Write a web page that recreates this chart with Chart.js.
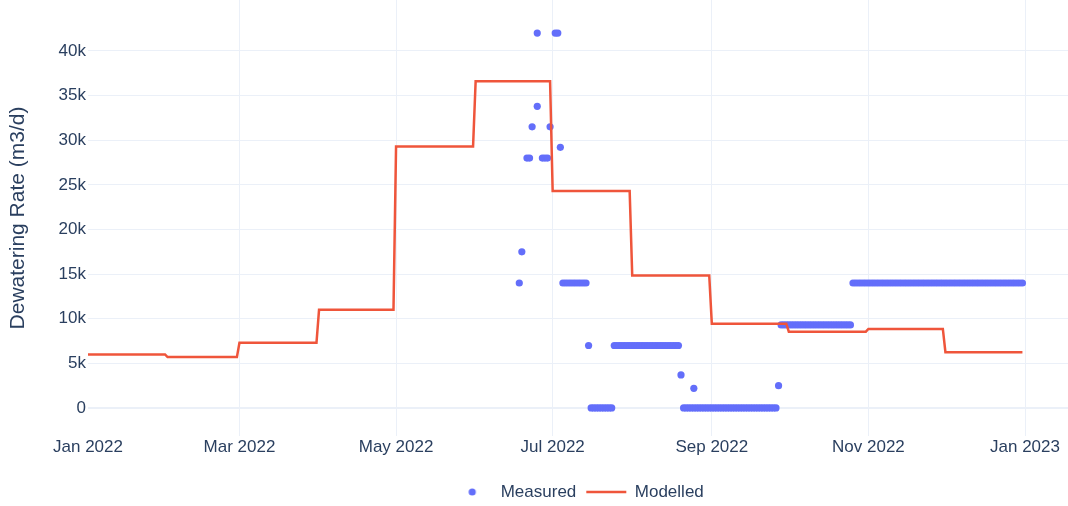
<!DOCTYPE html>
<html>
<head>
<meta charset="utf-8">
<title>Dewatering Rate</title>
<script src="https://cdn.jsdelivr.net/npm/chart.js@4.4.0/dist/chart.umd.min.js"></script>
<style>
  html, body { margin: 0; padding: 0; background: #fff; }
  #wrap { width: 1068px; height: 506px; position: relative; }
</style>
</head>
<body>
<div id="wrap"><canvas id="chart"></canvas></div>
<script>
// Modelled rate: one value per month, held from the first to the last day
const modelDates = [
    '2022-01-01', '2022-01-31', '2022-02-01', '2022-02-28', '2022-03-01', '2022-03-31',
    '2022-04-01', '2022-04-30', '2022-05-01', '2022-05-31', '2022-06-01', '2022-06-30',
    '2022-07-01', '2022-07-31', '2022-08-01', '2022-08-31', '2022-09-01', '2022-09-30',
    '2022-10-01', '2022-10-31', '2022-11-01', '2022-11-30', '2022-12-01', '2022-12-31'
];
const modelValues = [
    6000, 6000, 5700, 5700, 7300, 7300,
    11000, 11000, 29300, 29300, 36600, 36600,
    24300, 24300, 14850, 14850, 9450, 9450,
    8550, 8550, 8850, 8850, 6250, 6250
];

// Measured rate (daily readings)
const measuredDates = [
    '2022-06-18', '2022-06-19', '2022-06-21', '2022-06-22', '2022-06-23', '2022-06-25', '2022-06-25',
    '2022-06-27', '2022-06-28', '2022-06-29', '2022-06-30', '2022-07-02', '2022-07-03', '2022-07-04',
    '2022-07-05', '2022-07-06', '2022-07-07', '2022-07-08', '2022-07-09', '2022-07-10', '2022-07-11',
    '2022-07-12', '2022-07-13', '2022-07-14',
    '2022-07-15',
    '2022-07-16', '2022-07-17', '2022-07-18', '2022-07-19', '2022-07-20', '2022-07-21', '2022-07-22',
    '2022-07-23', '2022-07-24',
    '2022-07-25', '2022-07-26', '2022-07-27', '2022-07-28', '2022-07-29', '2022-07-30', '2022-07-31',
    '2022-08-01', '2022-08-02', '2022-08-03', '2022-08-04', '2022-08-05', '2022-08-06', '2022-08-07',
    '2022-08-08', '2022-08-09', '2022-08-10', '2022-08-11', '2022-08-12', '2022-08-13', '2022-08-14',
    '2022-08-15', '2022-08-16', '2022-08-17', '2022-08-18', '2022-08-19',
    '2022-08-20', '2022-08-25',
    '2022-08-21', '2022-08-22', '2022-08-23', '2022-08-24', '2022-08-25', '2022-08-26', '2022-08-27',
    '2022-08-28', '2022-08-29', '2022-08-30', '2022-08-31', '2022-09-01', '2022-09-02', '2022-09-03',
    '2022-09-04', '2022-09-05', '2022-09-06', '2022-09-07', '2022-09-08', '2022-09-09', '2022-09-10',
    '2022-09-11', '2022-09-12', '2022-09-13', '2022-09-14', '2022-09-15', '2022-09-16', '2022-09-17',
    '2022-09-18', '2022-09-19', '2022-09-20', '2022-09-21', '2022-09-22', '2022-09-23', '2022-09-24',
    '2022-09-25', '2022-09-26',
    '2022-09-27',
    '2022-09-28', '2022-09-29', '2022-09-30', '2022-10-01', '2022-10-02', '2022-10-03', '2022-10-04',
    '2022-10-05', '2022-10-06', '2022-10-07', '2022-10-08', '2022-10-09', '2022-10-10', '2022-10-11',
    '2022-10-12', '2022-10-13', '2022-10-14', '2022-10-15', '2022-10-16', '2022-10-17', '2022-10-18',
    '2022-10-19', '2022-10-20', '2022-10-21', '2022-10-22', '2022-10-23', '2022-10-24', '2022-10-25',
    '2022-10-26', '2022-10-27', '2022-10-28', '2022-10-29', '2022-10-30', '2022-10-31',
    '2022-11-01', '2022-11-02', '2022-11-03', '2022-11-04', '2022-11-05', '2022-11-06', '2022-11-07',
    '2022-11-08', '2022-11-09', '2022-11-10', '2022-11-11', '2022-11-12', '2022-11-13', '2022-11-14',
    '2022-11-15', '2022-11-16', '2022-11-17', '2022-11-18', '2022-11-19', '2022-11-20', '2022-11-21',
    '2022-11-22', '2022-11-23', '2022-11-24', '2022-11-25', '2022-11-26', '2022-11-27', '2022-11-28',
    '2022-11-29', '2022-11-30',
    '2022-12-01', '2022-12-02', '2022-12-03', '2022-12-04', '2022-12-05', '2022-12-06', '2022-12-07',
    '2022-12-08', '2022-12-09', '2022-12-10', '2022-12-11', '2022-12-12', '2022-12-13', '2022-12-14',
    '2022-12-15', '2022-12-16', '2022-12-17', '2022-12-18', '2022-12-19', '2022-12-20', '2022-12-21',
    '2022-12-22', '2022-12-23', '2022-12-24', '2022-12-25', '2022-12-26', '2022-12-27', '2022-12-28',
    '2022-12-29', '2022-12-30', '2022-12-31'
];
const measuredValues = [
    14000, 17500, 28000, 28000, 31500, 42000, 33800,
    28000, 28000, 28000, 31500, 42000, 42000, 29200,
    14000, 14000, 14000, 14000, 14000, 14000, 14000,
    14000, 14000, 14000,
    7000,
    0, 0, 0, 0, 0, 0, 0,
    0, 0,
    7000, 7000, 7000, 7000, 7000, 7000, 7000,
    7000, 7000, 7000, 7000, 7000, 7000, 7000,
    7000, 7000, 7000, 7000, 7000, 7000, 7000,
    7000, 7000, 7000, 7000, 7000,
    3700, 2200,
    0, 0, 0, 0, 0, 0, 0,
    0, 0, 0, 0, 0, 0, 0,
    0, 0, 0, 0, 0, 0, 0,
    0, 0, 0, 0, 0, 0, 0,
    0, 0, 0, 0, 0, 0, 0,
    0, 0,
    2500,
    9300, 9300, 9300, 9300, 9300, 9300, 9300,
    9300, 9300, 9300, 9300, 9300, 9300, 9300,
    9300, 9300, 9300, 9300, 9300, 9300, 9300,
    9300, 9300, 9300, 9300, 9300, 9300, 9300,
    14000, 14000, 14000, 14000, 14000, 14000,
    14000, 14000, 14000, 14000, 14000, 14000, 14000,
    14000, 14000, 14000, 14000, 14000, 14000, 14000,
    14000, 14000, 14000, 14000, 14000, 14000, 14000,
    14000, 14000, 14000, 14000, 14000, 14000, 14000,
    14000, 14000,
    14000, 14000, 14000, 14000, 14000, 14000, 14000,
    14000, 14000, 14000, 14000, 14000, 14000, 14000,
    14000, 14000, 14000, 14000, 14000, 14000, 14000,
    14000, 14000, 14000, 14000, 14000, 14000, 14000,
    14000, 14000, 14000
];

// Axis ticks
const xTickDates = ['2022-01-01', '2022-03-01', '2022-05-01', '2022-07-01', '2022-09-01', '2022-11-01', '2023-01-01'];
const xTickLabels = ['Jan 2022', 'Mar 2022', 'May 2022', 'Jul 2022', 'Sep 2022', 'Nov 2022', 'Jan 2023'];
const yTickValues = [0, 5000, 10000, 15000, 20000, 25000, 30000, 35000, 40000];
const yTickLabels = ['0', '5k', '10k', '15k', '20k', '25k', '30k', '35k', '40k'];

const DAY = 86400000;
const toMs = d => new Date(d + 'T00:00:00Z').getTime();
const xMin = toMs('2022-01-01');
const xMax = xMin + 381.75 * DAY;

const TEXT = '#2a3f5f';
const GRID = '#ebf0f8';

Chart.defaults.font.family = '"Liberation Sans", Arial, sans-serif';
Chart.defaults.color = TEXT;

// legend symbol for the measured markers (a small dot)
const dot = document.createElement('canvas');
dot.width = 10;
dot.height = 10;
const dctx = dot.getContext('2d');
dctx.fillStyle = '#636efa';
dctx.beginPath();
dctx.arc(5, 5, 3.6, 0, Math.PI * 2);
dctx.fill();

const legendNudge = {
    id: 'legendNudge',
    afterLayout(chart) {
        chart.legend.top += 4.5;
        chart.legend.bottom += 4.5;
    }
};

new Chart(document.getElementById('chart'), {
    type: 'scatter',
    data: {
        datasets: [{
            label: 'Measured',
            type: 'scatter',
            data: measuredDates.map((d, i) => ({ x: toMs(d), y: measuredValues[i] })),
            backgroundColor: '#636efa',
            pointRadius: 3.6,
            pointHoverRadius: 3.6,
            pointBorderWidth: 0,
            order: 1
        }, {
            label: 'Modelled',
            type: 'line',
            data: modelDates.map((d, i) => ({ x: toMs(d), y: modelValues[i] })),
            borderColor: '#ef553b',
            backgroundColor: '#ef553b',
            borderWidth: 2.5,
            pointRadius: 0,
            tension: 0,
            fill: false,
            order: 0
        }]
    },
    options: {
        responsive: true,
        maintainAspectRatio: false,
        animation: false,
        layout: { padding: 0, autoPadding: false },
        plugins: {
            tooltip: { enabled: false },
            legend: {
                position: 'bottom',
                fullSize: false,
                labels: {
                    usePointStyle: true,
                    pointStyleWidth: 40,
                    padding: 10,
                    color: TEXT,
                    font: { size: 17 },
                    generateLabels(chart) {
                        const items = Chart.defaults.plugins.legend.labels.generateLabels(chart);
                        items.sort((a, b) => a.datasetIndex - b.datasetIndex);
                        items.forEach(it => {
                            it.pointStyle = it.datasetIndex === 0 ? dot : 'line';
                        });
                        return items;
                    }
                }
            }
        },
        scales: {
            x: {
                type: 'linear',
                min: xMin,
                max: xMax,
                border: { display: false },
                grid: {
                    drawTicks: false,
                    color: ctx => ctx.index === 0 ? 'rgba(0,0,0,0)' : GRID,
                    lineWidth: 1
                },
                ticks: {
                    autoSkip: false,
                    maxRotation: 0,
                    padding: 1,
                    color: TEXT,
                    font: { size: 17 },
                    callback: (v, i) => xTickLabels[i]
                },
                afterBuildTicks: scale => {
                    scale.ticks = xTickDates.map(d => ({ value: toMs(d) }));
                },
                afterFit: scale => {
                    scale.height = 33;
                    scale.paddingLeft = 0;
                    scale.paddingRight = 0;
                }
            },
            y: {
                min: -3140,
                max: 45710,
                border: { display: false },
                grid: {
                    drawTicks: false,
                    color: GRID,
                    lineWidth: ctx => ctx.tick && ctx.tick.value === 0 ? 2 : 1
                },
                ticks: {
                    padding: 2,
                    color: TEXT,
                    font: { size: 17 },
                    callback: (v, i) => yTickLabels[i]
                },
                afterBuildTicks: scale => {
                    scale.ticks = yTickValues.map(v => ({ value: v }));
                },
                afterFit: scale => {
                    scale.width = 88;
                    scale.paddingTop = 0;
                    scale.paddingBottom = 0;
                },
                title: {
                    display: true,
                    text: 'Dewatering Rate (m3/d)',
                    color: TEXT,
                    font: { size: 21 },
                    padding: { top: 6, bottom: 0 }
                }
            }
        }
    },
    plugins: [legendNudge]
});
</script>
</body>
</html>
